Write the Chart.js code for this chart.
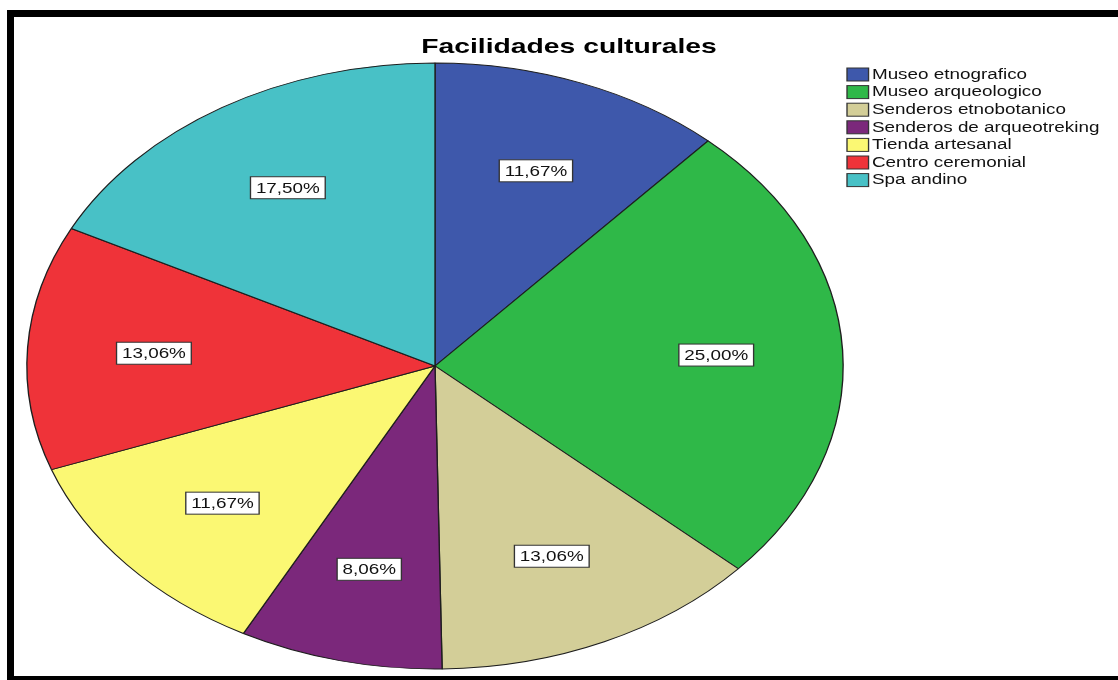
<!DOCTYPE html>
<html>
<head>
<meta charset="utf-8">
<script src="https://cdn.jsdelivr.net/npm/chart.js@4/dist/chart.umd.min.js"></script>
<style>
html, body { margin: 0; padding: 0; background: #fff; overflow: hidden; }
#wrap { position: relative; width: 1118px; height: 680px; }
#frame { position: absolute; left: 7px; top: 10px; width: 1200px; height: 659px; border: 7px solid #000; pointer-events: none; }
</style>
</head>
<body>
<div id="wrap">
    <canvas id="myChart" width="1118" height="680"></canvas>
    <div id="frame"></div>
</div>
<script>
var titleText = 'Facilidades culturales';
var categories = ['Museo etnografico', 'Museo arqueologico', 'Senderos etnobotanico',
    'Senderos de arqueotreking', 'Tienda artesanal', 'Centro ceremonial', 'Spa andino'];
var counts = [42, 90, 47, 29, 42, 47, 63];
var colors = ['#3e58ab', '#2fb848', '#d3ce98', '#7b287b', '#fbf873', '#ef3339', '#48c1c6'];

// the original picture is a round pie stretched sideways, so everything gets this x scale
var SX = 1.347;
var FONT = "'Liberation Sans', Arial, sans-serif";

var total = counts.reduce(function (a, b) { return a + b; }, 0);
var percentLabels = counts.map(function (c) {
    return (c / total * 100).toFixed(2).replace('.', ',') + '%';
});

var stretchPie = {
    id: 'stretchPie',
    beforeDatasetsDraw: function (chart) {
        var arc = chart.getDatasetMeta(0).data[0];
        var ctx = chart.ctx;
        ctx.save();
        ctx.translate(arc.x, 0);
        ctx.scale(SX, 1);
        ctx.translate(-arc.x, 0);
    },
    afterDatasetsDraw: function (chart) {
        var ctx = chart.ctx;
        ctx.restore();

        // percent boxes
        var meta = chart.getDatasetMeta(0);
        ctx.save();
        ctx.font = '14px ' + FONT;
        ctx.textAlign = 'center';
        ctx.textBaseline = 'middle';
        meta.data.forEach(function (arc, i) {
            var mid = (arc.startAngle + arc.endAngle) / 2;
            var r = arc.outerRadius * 0.69;
            var px = arc.x + Math.cos(mid) * r * SX;
            var py = arc.y + Math.sin(mid) * r;
            var w = ctx.measureText(percentLabels[i]).width + 8;
            ctx.save();
            ctx.translate(px, py);
            ctx.scale(SX, 1);
            ctx.fillStyle = '#fff';
            ctx.fillRect(-w / 2, -11, w, 22);
            ctx.strokeStyle = '#333';
            ctx.lineWidth = 1;
            ctx.strokeRect(-w / 2, -11, w, 22);
            ctx.fillStyle = '#111';
            ctx.fillText(percentLabels[i], 0, 1);
            ctx.restore();
        });
        ctx.restore();
    },
    afterDraw: function (chart) {
        var ctx = chart.ctx;
        // title
        ctx.save();
        ctx.translate(569, 47);
        ctx.scale(SX, 1);
        ctx.font = 'bold 21px ' + FONT;
        ctx.textAlign = 'center';
        ctx.textBaseline = 'middle';
        ctx.fillStyle = '#000';
        ctx.fillText(titleText, 0, 0);
        ctx.restore();

        // legend
        ctx.save();
        ctx.font = '14px ' + FONT;
        ctx.textBaseline = 'middle';
        chart.data.labels.forEach(function (lab, i) {
            ctx.save();
            ctx.translate(847, 74.5 + i * 17.6);
            ctx.scale(SX, 1);
            ctx.fillStyle = colors[i];
            ctx.fillRect(0, -6.5, 16, 13);
            ctx.strokeStyle = '#333';
            ctx.lineWidth = 1;
            ctx.strokeRect(0, -6.5, 16, 13);
            ctx.fillStyle = '#111';
            ctx.fillText(lab, 18.5, 0.5);
            ctx.restore();
        });
        ctx.restore();
    }
};

var ctx = document.getElementById('myChart');
var myChart = new Chart(ctx, {
    type: 'pie',
    data: {
        labels: categories,
        datasets: [{
            label: titleText,
            data: counts,
            backgroundColor: colors,
            borderColor: '#1e1e1e',
            borderWidth: 1,
            radius: 303,
            hoverOffset: 0
        }]
    },
    options: {
        responsive: false,
        animation: false,
        layout: { padding: { left: 0, right: 248, top: 52, bottom: 0 } },
        plugins: {
            legend: { display: false },
            title: { display: false },
            tooltip: { enabled: false }
        }
    },
    plugins: [stretchPie]
});
</script>
</body>
</html>
